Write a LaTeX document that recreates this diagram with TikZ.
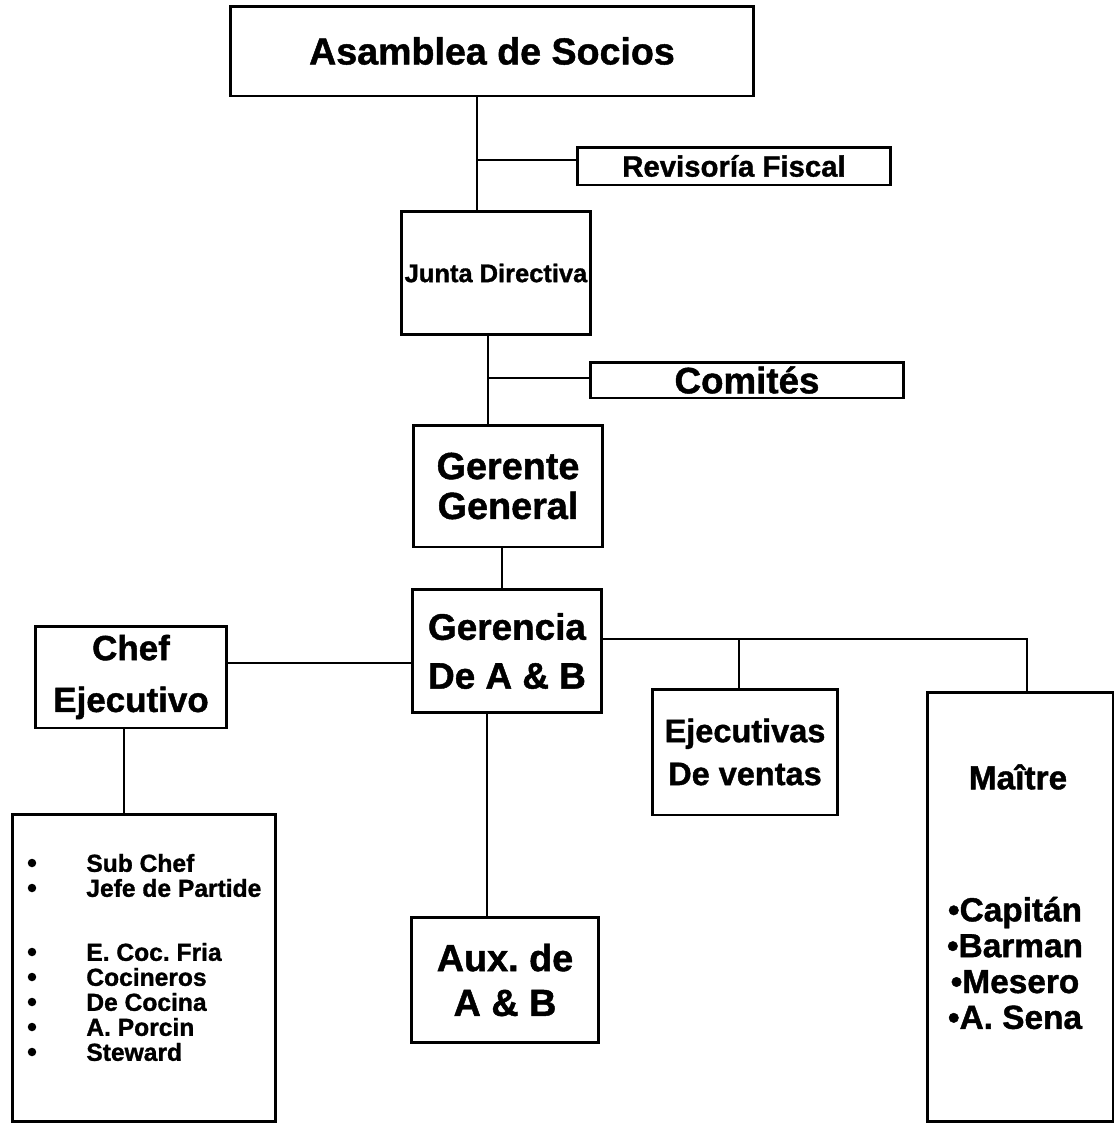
\documentclass[tikz,border=0pt]{standalone}
\usepackage{fontspec}
\setmainfont{Liberation Sans}[BoldFeatures={FakeBold=1.2}]
\newcommand{\fsz}[2]{\fontsize{#1}{#2}\selectfont\bfseries}
\frenchspacing
\tikzset{
  box/.style={draw, line width=1.7pt, inner sep=0pt, align=center},
  link/.style={line width=1.1pt},
  dot/.style={circle, fill, inner sep=0pt, minimum size=0.17cm},
}

\begin{document}
\begin{tikzpicture}[x=0.02cm,y=-0.02cm]
\useasboundingbox (0,0) rectangle (1116,1126);

\node[box, minimum width=10.46cm, minimum height=1.80cm, font=\fsz{21.4pt}{24pt}] (asamblea) at (492,51) {Asamblea de Socios};
\node[box, minimum width=6.26cm, minimum height=0.76cm, font=\fsz{16.7pt}{18pt}] (revisoria) at (734,166) {Revisoría Fiscal};
\node[box, minimum width=3.78cm, minimum height=2.48cm, font=\fsz{14.5pt}{16pt}] (junta) at (496,273) {Junta Directiva};
\node[box, minimum width=6.28cm, minimum height=0.72cm, font=\fsz{20.9pt}{22pt}] (comites) at (747,380) {Comités};
\node[box, minimum width=3.80cm, minimum height=2.44cm, font=\fsz{21.5pt}{22.7pt}] (gerente) at (508,486) {Gerente\\General};
\node[box, minimum width=3.78cm, minimum height=2.46cm, font=\fsz{21pt}{27.8pt}] (gerencia) at (507,651) {Gerencia\\De A \& B};
\node[box, minimum width=3.84cm, minimum height=2.04cm, font=\fsz{19.9pt}{29.5pt}] (chef) at (131,677) {Chef\\Ejecutivo};
\node[box, minimum width=3.72cm, minimum height=2.52cm, font=\fsz{18.5pt}{24.4pt}] (ejecutivas) at (745,752) {Ejecutivas\\De ventas};
\node[box, minimum width=3.74cm, minimum height=2.50cm, font=\fsz{21.5pt}{25.5pt}] (aux) at (505,980) {Aux. de\\A \& B};

% Maitre
\node[box, minimum width=3.72cm, minimum height=8.60cm] (maitre) at (1020,907) {};
\node[font=\fsz{19pt}{20.4pt}] (maitreT) at (1018,777) {Maître};
\node[font=\fsz{19pt}{20.4pt}, align=center] (maitreL) at (1015,963) {•Capitán\\•Barman\\•Mesero\\•A. Sena};

% cocina
\node[box, minimum width=5.28cm, minimum height=6.14cm] (cocina) at (144,968) {};
\foreach \y/\txt [count=\i] in {863/Sub Chef, 888/Jefe de Partide, 952/E. Coc. Fria, 977/Cocineros, 1002/De Cocina, 1027/A. Porcin, 1052/Steward} {
  \node[anchor=west, inner sep=0pt, font=\fsz{14pt}{15pt}] (item\i) at (86,\y) {\txt};
  \node[dot] (dot\i) at (32,\y) {};
}

\coordinate (jA) at (477,160);
\coordinate (jB) at (488,378);
\coordinate (jC) at (502,0);
\coordinate (jD) at (0,663);
\coordinate (jE) at (1027,639);
\coordinate (jF) at (739,639);
\coordinate (jG) at (124,0);
\coordinate (jH) at (487,0);

\draw[link] (asamblea.south -| jA) -- (junta.north -| jA);
\draw[link] (jA) -- (revisoria.west |- jA);
\draw[link] (junta.south -| jB) -- (gerente.north -| jB);
\draw[link] (jB) -- (comites.west |- jB);
\draw[link] (gerente.south -| jC) -- (gerencia.north -| jC);
\draw[link] (chef.east |- jD) -- (gerencia.west |- jD);
\draw[link] (gerencia.east |- jE) -- (jE) -- (maitre.north -| jE);
\draw[link] (jF) -- (ejecutivas.north -| jF);
\draw[link] (chef.south -| jG) -- (cocina.north -| jG);
\draw[link] (gerencia.south -| jH) -- (aux.north -| jH);

\end{tikzpicture}
\end{document}
